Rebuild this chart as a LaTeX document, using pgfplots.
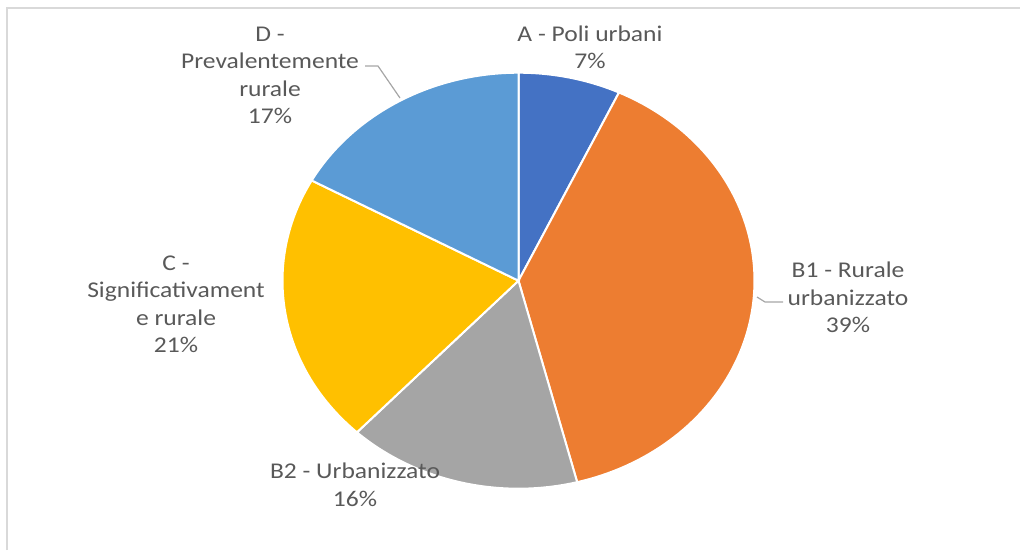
\documentclass[border=0pt]{standalone}
\usepackage{pgfplots}
\pgfplotsset{compat=1.18}
\usepackage{fontspec}
\setmainfont{Carlito}

\definecolor{cA}{HTML}{4472C4}
\definecolor{cBa}{HTML}{ED7D31}
\definecolor{cBb}{HTML}{A5A5A5}
\definecolor{cC}{HTML}{FFC000}
\definecolor{cD}{HTML}{5B9BD5}
\definecolor{lbl}{HTML}{595959}
\definecolor{leader}{HTML}{A6A6A6}
\definecolor{frame}{HTML}{D9D9D9}

% shares in percent, clockwise from 12 o'clock
\def\shA{7}\def\shBa{39}\def\shBb{16}\def\shC{21}\def\shD{17}
\pgfmathsetmacro\aA{90}
\pgfmathsetmacro\aB{\aA-3.6*\shA}
\pgfmathsetmacro\aC{\aB-3.6*\shBa}
\pgfmathsetmacro\aD{\aC-3.6*\shBb}
\pgfmathsetmacro\aE{\aD-3.6*\shC}
\pgfmathsetmacro\aF{\aE-3.6*\shD}

% pie centre and radii (picture units, the original is stretched sideways)
\def\cx{518.5}\def\cy{269.3}\def\rx{236}\def\ry{208}

\newcommand\slice[3]{%
  \addplot[fill=#3, draw=white, line width=2pt, domain=#2:#1, samples=90, variable=\t]
    ({\cx+\rx*cos(\t)},{\cy+\ry*sin(\t)}) -- (\cx,\cy) -- cycle;}

\tikzset{lab/.style={text=lbl, align=center, xscale=1.135,
  font=\fontsize{22.5}{27.5}\selectfont}}

\begin{document}
\begin{tikzpicture}
\begin{axis}[width=1020pt, height=550pt, scale only axis, hide axis,
  xmin=0, xmax=1020, ymin=0, ymax=550]
% frame
\addplot[draw=frame, line width=2pt] coordinates {(7,0) (7,542) (1020,542)};
% slices
\slice{\aA}{\aB}{cA}
\slice{\aB}{\aC}{cBa}
\slice{\aC}{\aD}{cBb}
\slice{\aD}{\aE}{cC}
\slice{\aE}{\aF}{cD}
% leader lines
\addplot[draw=leader, line width=1.2pt] coordinates {(365,484) (378,484) (400,452)};
\addplot[draw=leader, line width=1.2pt] coordinates {(757,253) (765,248) (783,248)};
% labels
\node[lab] at (590,502.6) {A - Poli urbani\\7\%};
\node[lab] at (848,252.7) {B1 - Rurale\\urbanizzato\\39\%};
\node[lab] at (355,65.1) {B2 - Urbanizzato\\16\%};
\node[lab] at (176,245.7) {C -\\Significativament\\e rurale\\21\%};
\node[lab] at (270,474.7) {D -\\Prevalentemente\\rurale\\17\%};
\end{axis}
\pgfresetboundingbox
\path[use as bounding box] (current axis.south west) rectangle (current axis.north east);
\end{tikzpicture}
\end{document}
